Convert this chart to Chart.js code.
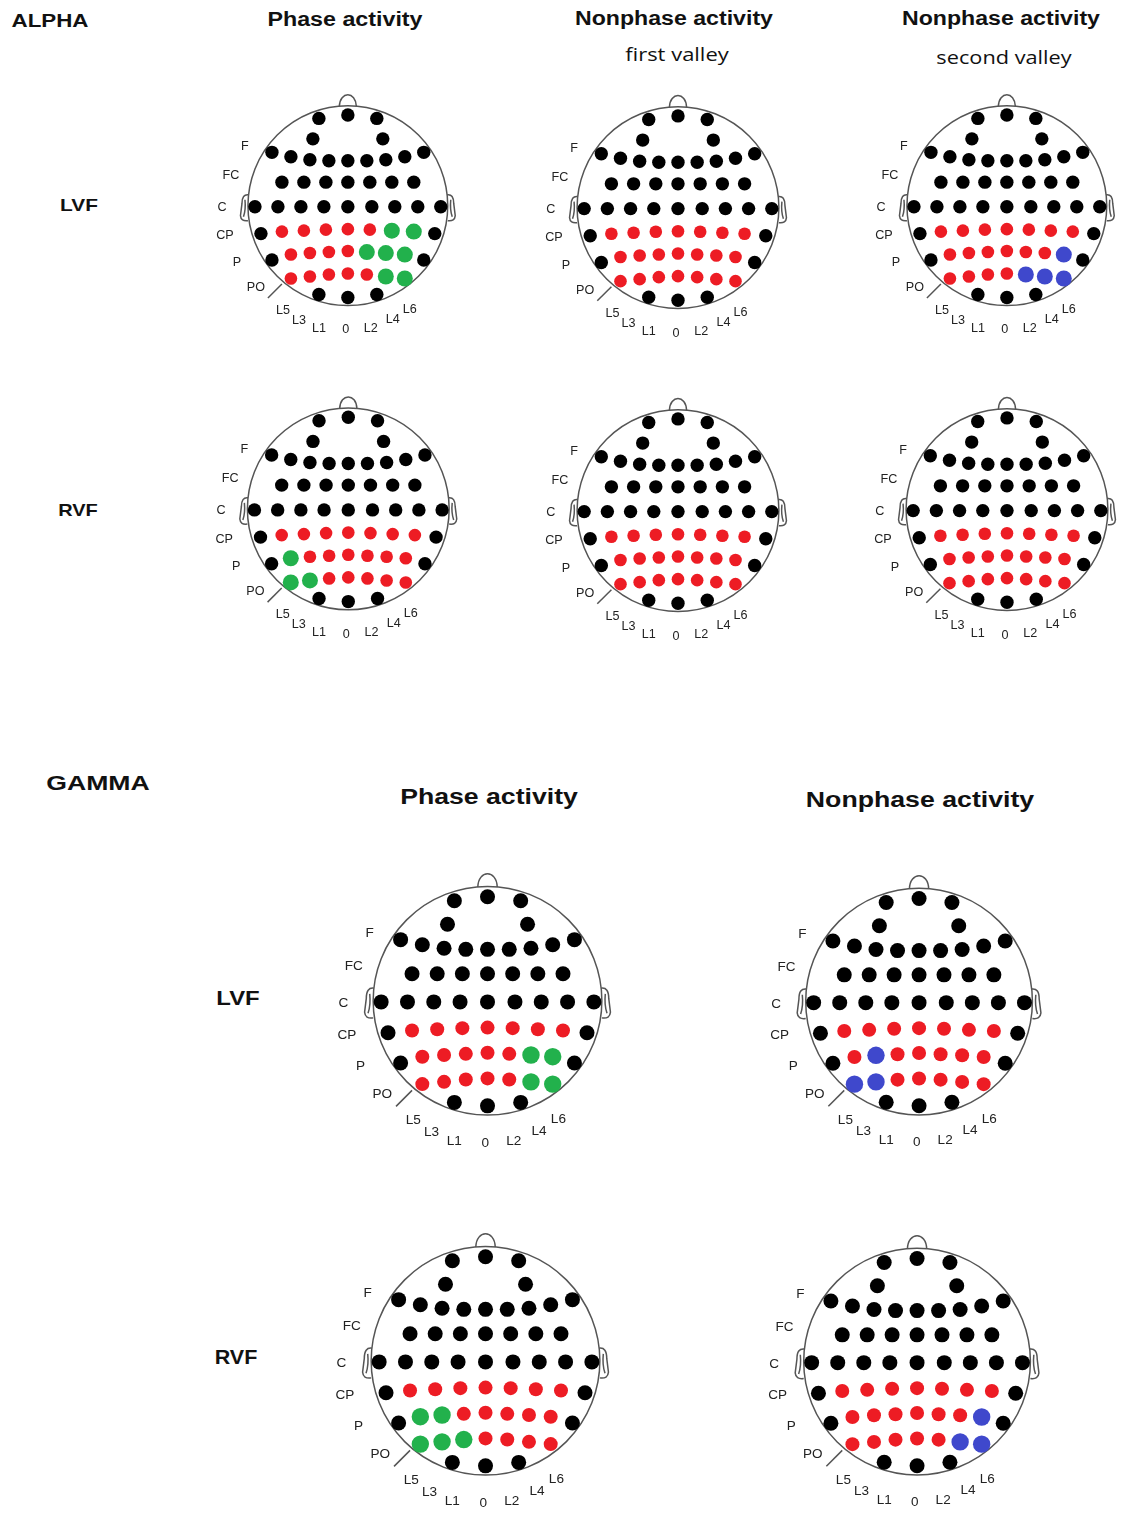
<!DOCTYPE html>
<html>
<head>
<meta charset="utf-8">
<title>Alpha and gamma electrode maps</title>
<script src="https://cdn.jsdelivr.net/npm/chart.js@4.4.1/dist/chart.umd.min.js"></script>
<style>
  html, body { margin: 0; padding: 0; background: #fff; }
  #page { position: relative; width: 1130px; height: 1515px; overflow: hidden;
          font-family: "Liberation Sans", Arial, sans-serif; }
  .t { position: absolute; white-space: nowrap; line-height: 1; color: #111; }
  canvas { position: absolute; }
</style>
</head>
<body>
<div id="page"></div>
<script>
// ---- electrode montage (unit head, x to the right, y towards the back) ----
const montageX = [
  [-0.29, 0, 0.29],
  [-0.35, 0.35],
  [-0.76, -0.57, -0.38, -0.19, 0, 0.19, 0.38, 0.57, 0.76],
  [-0.66, -0.44, -0.22, 0, 0.22, 0.44, 0.66],
  [-0.93, -0.70, -0.47, -0.24, 0, 0.24, 0.47, 0.70, 0.93],
  [-0.87, -0.66, -0.44, -0.22, 0, 0.22, 0.44, 0.66, 0.87],
  [-0.76, -0.57, -0.38, -0.19, 0, 0.19, 0.38, 0.57, 0.76],
  [-0.57, -0.38, -0.19, 0, 0.19, 0.38, 0.57],
  [-0.29, 0, 0.29]
];
const montageY = [
  [-0.875, -0.91, -0.875],
  [-0.67, -0.67],
  [-0.535, -0.49, -0.46, -0.45, -0.45, -0.45, -0.46, -0.49, -0.535],
  [-0.236, -0.236, -0.236, -0.236, -0.236, -0.236, -0.236],
  [0.01, 0.01, 0.01, 0.01, 0.01, 0.01, 0.01, 0.01, 0.01],
  [0.28, 0.26, 0.25, 0.24, 0.235, 0.24, 0.25, 0.26, 0.28],
  [0.545, 0.49, 0.475, 0.465, 0.455, 0.465, 0.475, 0.49, 0.545],
  [0.73, 0.71, 0.69, 0.68, 0.69, 0.71, 0.73],
  [0.89, 0.92, 0.89]
];
const rowLabels  = ['F', 'FC', 'C', 'CP', 'P', 'PO'];
const lineLabels = ['L5', 'L3', 'L1', '0', 'L2', 'L4', 'L6'];

// ---- electrode states for the CP, P and PO rows (all other rows are 'k') ----
// k = black, r = red, g = green, b = blue
const alphaLvfPhase     = ['krrrrrggk', 'krrrrgggk', 'rrrrrgg'];
const alphaLvfNonphase1 = ['krrrrrrrk', 'krrrrrrrk', 'rrrrrrr'];
const alphaLvfNonphase2 = ['krrrrrrrk', 'krrrrrrbk', 'rrrrbbb'];
const alphaRvfPhase     = ['krrrrrrrk', 'kgrrrrrrk', 'ggrrrrr'];
const alphaRvfNonphase1 = ['krrrrrrrk', 'krrrrrrrk', 'rrrrrrr'];
const alphaRvfNonphase2 = ['krrrrrrrk', 'krrrrrrrk', 'rrrrrrr'];
const gammaLvfPhase     = ['krrrrrrrk', 'krrrrrggk', 'rrrrrgg'];
const gammaLvfNonphase  = ['krrrrrrrk', 'krbrrrrrk', 'bbrrrrr'];
const gammaRvfPhase     = ['krrrrrrrk', 'kggrrrrrk', 'gggrrrr'];
const gammaRvfNonphase  = ['krrrrrrrk', 'krrrrrrbk', 'rrrrrbb'];

// ---- styles ----
const DOT_COLORS = { k: '#000000', r: '#ed1c24', g: '#22b14c', b: '#3f48cc' };
const DOT_SIZES = {
  alpha: { k: 6.7, r: 6.3, g: 8.0, b: 8.0 },
  gamma: { k: 7.5, r: 7.0, g: 8.7, b: 8.7 }
};

// ---- page layout: head centre and radius in px ----
const heads = [
  { states: alphaLvfPhase,     band: 'alpha', cx: 349,  cy: 205,  r: 106 },
  { states: alphaLvfNonphase1, band: 'alpha', cx: 679,  cy: 207,  r: 106 },
  { states: alphaLvfNonphase2, band: 'alpha', cx: 1008, cy: 205,  r: 106 },
  { states: alphaRvfPhase,     band: 'alpha', cx: 349,  cy: 508,  r: 107 },
  { states: alphaRvfNonphase1, band: 'alpha', cx: 679,  cy: 510,  r: 106 },
  { states: alphaRvfNonphase2, band: 'alpha', cx: 1008, cy: 509,  r: 106 },
  { states: gammaLvfPhase,     band: 'gamma', cx: 488,  cy: 1000, r: 121 },
  { states: gammaLvfNonphase,  band: 'gamma', cx: 920,  cy: 1001, r: 120 },
  { states: gammaRvfPhase,     band: 'gamma', cx: 486,  cy: 1360, r: 121 },
  { states: gammaRvfNonphase,  band: 'gamma', cx: 918,  cy: 1361, r: 120 }
];

// text: [content, centre x, centre y, font size, weight, target width]
const texts = [
  ['ALPHA',             50,  21, 18, 'bold', 77],
  ['Phase activity',    345, 20, 19.5, 'bold', 155],
  ['Nonphase activity', 674, 19, 19.5, 'bold', 198],
  ['first valley',      677, 54, 19, 'normal', 104],
  ['Nonphase activity', 1001, 19, 19.5, 'bold', 198],
  ['second valley',     1004, 57, 19, 'normal', 135],
  ['LVF',               79, 205, 17, 'bold', 38],
  ['RVF',               78, 510, 17, 'bold', 40],
  ['GAMMA',             98, 782, 21, 'bold', 104],
  ['Phase activity',    489, 797, 22, 'bold', 178],
  ['Nonphase activity', 920, 800, 22, 'bold', 228],
  ['LVF',               238, 998, 20, 'bold', 43],
  ['RVF',               236, 1357, 20, 'bold', 43]
];

const page = document.getElementById('page');

// draws the scalp outline, nose, ears and the row / line labels
const headPlugin = {
  id: 'headOutline',
  beforeDatasetsDraw(chart) {
    const { ctx, scales: { x, y } } = chart;
    const P = (u, v) => [x.getPixelForValue(u), y.getPixelForValue(v)];
    const R = x.getPixelForValue(1) - x.getPixelForValue(0);
    const [cx, cy] = P(0, 0);
    ctx.save();
    ctx.strokeStyle = '#555';
    ctx.lineWidth = 1.5;
    ctx.beginPath();
    ctx.arc(cx, cy, R, 0, Math.PI * 2);
    ctx.stroke();
    // nose
    ctx.beginPath();
    ctx.moveTo(...P(-0.085, -0.996));
    ctx.bezierCurveTo(...P(-0.08, -1.15), ...P(0.08, -1.15), ...P(0.085, -0.996));
    ctx.stroke();
    // ears
    [-1, 1].forEach(s => {
      ctx.beginPath();
      ctx.moveTo(...P(s * 0.994, -0.11));
      ctx.quadraticCurveTo(...P(s * 1.06, -0.12), ...P(s * 1.06, -0.02));
      ctx.lineTo(...P(s * 1.075, 0.10));
      ctx.quadraticCurveTo(...P(s * 1.07, 0.16), ...P(s * 1.0, 0.15));
      ctx.stroke();
      ctx.beginPath();
      ctx.moveTo(...P(s * 1.03, -0.06));
      ctx.quadraticCurveTo(...P(s * 1.02, 0.04), ...P(s * 1.045, 0.11));
      ctx.stroke();
    });
    // PO marker
    ctx.beginPath();
    ctx.moveTo(...P(-0.66, 0.785));
    ctx.lineTo(...P(-0.80, 0.925));
    ctx.stroke();
    ctx.restore();
  },
  afterDatasetsDraw(chart) {
    const { ctx, scales: { x, y } } = chart;
    const P = (u, v) => [x.getPixelForValue(u), y.getPixelForValue(v)];
    const R = x.getPixelForValue(1) - x.getPixelForValue(0);
    const fs = 13 * (1 + (R / 106 - 1) * 0.6);
    const rowPos = [[-1.03, -0.59], [-1.17, -0.30], [-1.26, 0.02], [-1.23, 0.30], [-1.11, 0.57], [-0.92, 0.82]];
    const linePos = [[-0.65, 1.05], [-0.49, 1.15], [-0.29, 1.23], [-0.02, 1.245], [0.23, 1.23], [0.45, 1.14], [0.62, 1.04]];
    ctx.save();
    ctx.fillStyle = '#222';
    ctx.font = fs.toFixed(1) + 'px "Liberation Sans", Arial, sans-serif';
    ctx.textAlign = 'center';
    ctx.textBaseline = 'middle';
    rowLabels.forEach((t, i) => ctx.fillText(t, ...P(...rowPos[i])));
    lineLabels.forEach((t, i) => ctx.fillText(t, ...P(...linePos[i])));
    ctx.restore();
  }
};

const X0 = -1.45, XSPAN = 2.62, Y0 = -1.2, YSPAN = 2.56;

heads.forEach(h => {
  const W = Math.round(XSPAN * h.r), H = Math.round(YSPAN * h.r);
  const cv = document.createElement('canvas');
  cv.width = W; cv.height = H;
  cv.style.width = W + 'px'; cv.style.height = H + 'px';
  cv.style.left = Math.round(h.cx + X0 * h.r) + 'px';
  cv.style.top = Math.round(h.cy + Y0 * h.r) + 'px';
  page.appendChild(cv);

  const sizes = DOT_SIZES[h.band];
  const pts = [], colors = [], radii = [];
  montageX.forEach((row, i) => row.forEach((xv, j) => {
    const code = (i >= 5 && i <= 7) ? h.states[i - 5][j] : 'k';
    pts.push({ x: xv, y: montageY[i][j] });
    colors.push(DOT_COLORS[code]);
    radii.push(sizes[code]);
  }));

  new Chart(cv, {
    type: 'scatter',
    data: { datasets: [{
      data: pts,
      pointBackgroundColor: colors,
      pointBorderColor: colors,
      pointBorderWidth: 0,
      pointRadius: radii,
      pointHoverRadius: radii,
      clip: false
    }] },
    options: {
      responsive: false,
      animation: false,
      events: [],
      layout: { padding: 0 },
      plugins: { legend: { display: false }, tooltip: { enabled: false } },
      scales: {
        x: { type: 'linear', display: false, min: X0, max: X0 + W / h.r },
        y: { type: 'linear', display: false, reverse: true, min: Y0, max: Y0 + H / h.r }
      }
    },
    plugins: [headPlugin]
  });
});

// titles and row headings, stretched horizontally to their set widths
texts.forEach(([txt, cx, cy, fs, wt, w]) => {
  const d = document.createElement('div');
  d.className = 't';
  d.textContent = txt;
  d.style.fontSize = fs + 'px';
  d.style.fontWeight = wt;
  if (wt === 'normal') d.style.fontFamily = '"Open Sans", "Liberation Sans", sans-serif';
  d.style.left = cx + 'px';
  d.style.top = cy + 'px';
  page.appendChild(d);
  const k = w / d.offsetWidth;
  d.style.transform = 'translate(-50%, -50%) scaleX(' + k.toFixed(3) + ')';
});
</script>
</body>
</html>
